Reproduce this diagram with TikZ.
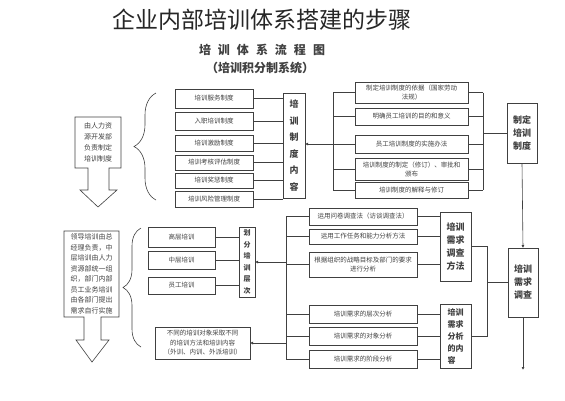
\documentclass[tikz,border=0pt]{standalone}
\usepackage{fontspec}
\setmainfont{Noto Sans CJK SC}
\usetikzlibrary{arrows.meta,decorations.pathreplacing}

\begin{document}
\begin{tikzpicture}[
  x=1pt, y=-1pt, color=black!75, line width=0.6pt,
  cell/.style={draw, anchor=north west, outer sep=0pt, inner sep=1pt, align=center,
    font=\fontsize{6.5}{9}\selectfont},
  bar/.style={cell, font=\bfseries\fontsize{9}{13}\selectfont},
  lead/.style={anchor=north west, outer sep=0pt, inner sep=1pt, align=center},
  arr/.style={-{Latex[length=3pt,width=3pt]}},
  curl/.style={decorate, decoration={brace, amplitude=#1}}
]
\useasboundingbox (0,0) rectangle (565,400);

% Titles
\node[font=\fontsize{23}{26}\selectfont, color=black!85] (title) at (262,20) {企业内部培训体系搭建的步骤};
\node[font=\bfseries\fontsize{12}{14}\selectfont] (sub) at (262,50)
  {培\hspace{7pt}训\hspace{7pt}体\hspace{7pt}系\hspace{7pt}流\hspace{7pt}程\hspace{7pt}图};
\node[font=\bfseries\fontsize{12}{14}\selectfont] (subb) at (260,68) {（培训积分制系统）};

% Right column
\node[bar, minimum width=30pt, minimum height=60pt] (policy) at (507,103) {制定\\培训\\制度};
\node[bar, minimum width=30pt, minimum height=69pt] (survey) at (508,248) {培训\\需求\\调查};
\coordinate (tail) at (523,370);
\draw[arr] (policy.south) -- (survey.north);
\draw[arr] (survey.south) -- (tail);

% Basis of the policy
\node[cell, minimum width=113pt, minimum height=21pt] (r1) at (355,82) {制定培训制度的依据（国家劳动\\法规）};
\node[cell, minimum width=113pt, minimum height=17pt] (r2) at (355,108) {明确员工培训的目的和意义};
\node[cell, minimum width=113pt, minimum height=18pt] (r3) at (355,135) {员工培训制度的实施办法};
\node[cell, minimum width=113pt, minimum height=22pt] (r4) at (355,158) {培训制度的制定（修订）、审批和\\颁布};
\node[cell, minimum width=113pt, minimum height=16pt] (r5) at (355,182) {培训制度的解释与修订};
\coordinate (rin) at (333,0);
\coordinate (rout) at (483,0);
\foreach \n in {r1,r2,r3,r4,r5} {
  \draw (\n.west) -- (\n.west -| rin);
  \draw (\n.east) -- (\n.east -| rout);
}
\draw (r1.west -| rin) -- (r5.west -| rin);
\draw (r1.east -| rout) -- (r5.east -| rout);
\draw (policy.west) -- (policy.west -| rout);

% Policy contents
\node[bar, font=\bfseries\fontsize{9}{16.5}\selectfont, minimum width=22pt, minimum height=105pt] (content) at (283,93)
  {培\\训\\制\\度\\内\\容};
\draw[arr] (r3.west -| rin) -- (r3.west -| content.east);
\node[cell, minimum width=78pt, minimum height=19pt] (c1) at (175,89) {培训服务制度};
\node[cell, minimum width=78pt, minimum height=18pt] (c2) at (175,112) {入职培训制度};
\node[cell, minimum width=78pt, minimum height=16pt] (c3) at (175,135) {培训激励制度};
\node[cell, minimum width=78pt, minimum height=15pt] (c4) at (175,155) {培训考核评估制度};
\node[cell, minimum width=78pt, minimum height=15pt] (c5) at (175,173) {培训奖惩制度};
\node[cell, minimum width=78pt, minimum height=16pt] (c6) at (175,191) {培训风险管理制度};
\foreach \n in {c1,c2,c3,c4,c5,c6}
  \draw (\n.east) -- (\n.east -| content.west);
\draw[curl=22pt] (156,200) -- (156,93);

\node[lead, font=\fontsize{7}{11}\selectfont, minimum width=46pt, minimum height=51pt] (owner) at (75,117)
  {由人力资\\源开发部\\负责制定\\培训制度};
\draw (owner.north west) -- (owner.north east) -- (owner.south east) -- ++(-12,0) -- ++(0,22)
  -- ++(8,0) -- ++(-19,17) -- ++(-18,-17) -- ++(8,0) -- ++(0,-22) -- (owner.south west) -- cycle;

% Survey methods
\node[bar, minimum width=31pt, minimum height=69pt] (method) at (440,212) {培训\\需求\\调查\\方法};
\node[cell, minimum width=108pt, minimum height=17pt] (m1) at (309,208) {运用问卷调查法（访谈调查法）};
\node[cell, minimum width=108pt, minimum height=15pt] (m2) at (309,229) {运用工作任务和能力分析方法};
\node[cell, minimum width=108pt, minimum height=25pt] (m3) at (309,252) {根据组织的战略目标及部门的要求\\进行分析};

% Analysis contents
\node[bar, font=\bfseries\fontsize{8}{12}\selectfont, align=left, minimum width=31pt, minimum height=64pt] (analysis) at (440,304)
  {培训\\需求\\分析\\的内\\容};
\node[cell, minimum width=108pt, minimum height=18pt] (a1) at (309,305) {培训需求的层次分析};
\node[cell, minimum width=108pt, minimum height=18pt] (a2) at (309,327) {培训需求的对象分析};
\node[cell, minimum width=108pt, minimum height=18pt] (a3) at (309,350) {培训需求的阶段分析};

\coordinate (mbus) at (286,0);
\coordinate (mout) at (487,0);
\foreach \n in {m1,m2,m3} {
  \draw (\n.west) -- (\n.west -| mbus);
  \draw (\n.east) -- (\n.east -| method.west);
}
\foreach \n in {a1,a2,a3} {
  \draw (\n.west) -- (\n.west -| mbus);
  \draw (\n.east) -- (\n.east -| analysis.west);
}
\draw (m1.west -| mbus) -- (a3.west -| mbus);
\draw (method.east) -- (method.east -| mout) -- (analysis.east -| mout) -- (analysis.east);
\draw (survey.west) -- (survey.west -| mout);

% Training levels
\node[bar, font=\bfseries\fontsize{7}{11.5}\selectfont, minimum width=16pt, minimum height=70pt] (level) at (239,227)
  {划\\分\\培\\训\\层\\次};
\node[cell, minimum width=67pt, minimum height=20pt] (l1) at (148,227) {高层培训};
\node[cell, minimum width=67pt, minimum height=18pt] (l2) at (148,251) {中层培训};
\node[cell, minimum width=67pt, minimum height=17pt] (l3) at (148,277) {员工培训};
\foreach \n in {l1,l2,l3}
  \draw (\n.east) -- (\n.east -| level.west);
\draw[arr] (level.east -| mbus) -- (level.east);

\node[cell, font=\fontsize{6.5}{9.5}\selectfont, minimum width=95pt, minimum height=32pt] (note) at (155,327)
  {不同的培训对象采取不同\\的培训方法和培训内容\\（外训、内训、外派培训）};
\draw[arr] (note.east -| mbus) -- (note.east);
\draw[curl=18pt] (141,347) -- (141,228);

\node[lead, font=\fontsize{7}{10.5}\selectfont, minimum width=55pt, minimum height=86pt] (split) at (64,231)
  {领导培训由总\\经理负责，中\\层培训由人力\\资源部统一组\\织，部门内部\\员工业务培训\\由各部门提出\\需求自行实施};
\draw (split.north west) -- (split.north east) -- (split.south east) -- ++(-18,0) -- ++(0,23)
  -- ++(8,0) -- ++(-17,22) -- ++(-16,-22) -- ++(8,0) -- ++(0,-23) -- (split.south west) -- cycle;
\end{tikzpicture}
\end{document}
